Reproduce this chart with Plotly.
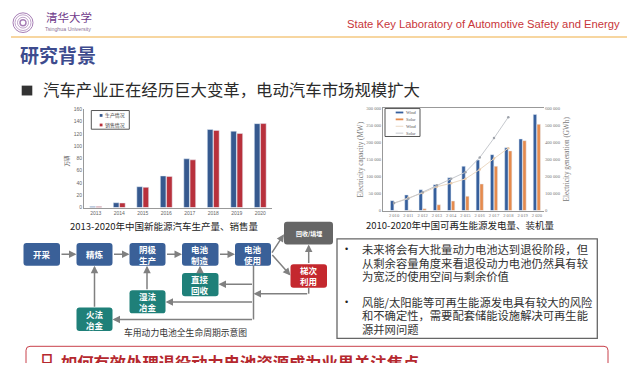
import plotly.graph_objects as go

W, H = 640, 368
CJK = "Noto Sans CJK SC, Liberation Sans, sans-serif"
LAT = "Liberation Sans, Arial, sans-serif"
SER = "Liberation Serif, serif"

# left chart data
ev_years = ["2013", "2014", "2015", "2016", "2017", "2018", "2019", "2020"]
ev_production = [1.8, 7.9, 34, 51.5, 79.4, 127, 124.2, 136.6]
ev_sales = [1.8, 7.5, 33, 50.7, 77.7, 125.6, 120.6, 136.7]
ev_ticks = [0, 20, 40, 60, 80, 100, 120, 140, 160]

# right chart data
re_years = ["2 010", "2 011", "2 012", "2 013", "2 014", "2 015", "2 016", "2 017", "2 018", "2 019", "2 020"]
wind_capacity = [29000, 46000, 61000, 76000, 96000, 130000, 148000, 164000, 184000, 210000, 282000]
solar_capacity = [800, 2000, 5000, 17000, 28000, 42000, 78000, 130000, 175000, 205000, 253000]
wind_generation = [44000, 75000, 103000, 140000, 160000, 186000, 241000, 305000, 366000]
solar_generation = [44000, 70000, 108000, 148000, 186000, 225000, 311000, 425000, 548000]
cap_tickvals = [0, 50000, 100000, 150000, 200000, 250000, 300000]
cap_ticktext = ["0", "50 000", "100 000", "150 000", "200 000", "250 000", "300 000"]
gen_tickvals = [0, 100000, 200000, 300000, 400000, 500000, 600000]
gen_ticktext = ["0", "100 000", "200 000", "300 000", "400 000", "500 000", "600 000"]

# slide text
header_text = "State Key Laboratory of Automotive Safety and Energy"
title_text = "研究背景"
headline_text = "汽车产业正在经历巨大变革，电动汽车市场规模扩大"
left_caption = "2013-2020年中国新能源汽车生产量、销售量"
right_caption = "2010-2020年中国可再生能源发电量、装机量"
flow_caption = "车用动力电池全生命周期示意图"
bottom_mark = "口"
bottom_text = "如何有效处理退役动力电池资源成为业界关注焦点"
bullet_lines = [
    (250, "未来将会有大批量动力电池达到退役阶段，但"),
    (264, "从剩余容量角度来看退役动力电池仍然具有较"),
    (277.5, "为宽泛的使用空间与剩余价值"),
    (304, "风能/太阳能等可再生能源发电具有较大的风险"),
    (317.5, "和不确定性，需要配套储能设施解决可再生能"),
    (331, "源并网问题"),
]

BLUE, RED2, TEAL, RED, GREY = "#3A6098", "#B8313C", "#1F8079", "#C4282E", "#666666"
EV_BLUE, WIND_BLUE, SOLAR_OR, WIND_LN, SOLAR_LN = "#36598F", "#365F9C", "#E58B4E", "#EBD9C4", "#C6C9CE"
flow_nodes = [
    (23.5, 60, 244, 267, BLUE, "开采"),
    (76.5, 112.5, 244, 267, BLUE, "精炼"),
    (129.5, 165.5, 244, 267, BLUE, "阴极<br>生产"),
    (182, 218.5, 244, 267, BLUE, "电池<br>制造"),
    (235, 271, 244, 267, BLUE, "电池<br>使用"),
    (284, 333, 222.5, 245.5, GREY, "回收/填埋"),
    (290.5, 327, 265.5, 289.5, RED, "梯次<br>利用"),
    (182, 218.5, 274.5, 298, TEAL, "直接<br>回收"),
    (129.5, 165.5, 292, 315.5, TEAL, "湿法<br>冶金"),
    (76.5, 112.5, 309.5, 333.5, TEAL, "火法<br>冶金"),
]
flow_arrows = [
    (60, 255.5, 76.5, 255.5), (112.5, 255.5, 129.5, 255.5), (165.5, 255.5, 182, 255.5),
    (218.5, 255.5, 235, 255.5), (271, 255, 284, 235), (271, 255, 290.5, 277),
    (308.7, 265.5, 308.7, 245.5), (308.7, 295.5, 253.5, 295.5), (253.5, 286, 218.5, 286),
    (253.5, 304, 165.5, 304), (253.5, 321.7, 112.5, 321.7), (200, 274.5, 200, 267),
    (147, 292, 147, 267), (94.5, 309.5, 94.5, 267),
]
flow_lines = [(253.5, 267, 253.5, 321.7), (308.7, 289.5, 308.7, 295.5)]


def px(x):
    return x / W


def py(y):
    return 1 - y / H


def text(x, y, s, size, color="#333333", font=CJK, anchor="left", **kw):
    return dict(xref="paper", yref="paper", x=px(x), y=py(y), text=s, showarrow=False,
                xanchor=anchor, yanchor=kw.pop("yanchor", "middle"), align=anchor,
                font=dict(size=size, color=color, family=font), borderpad=0, **kw)


def rect(x0, x1, y0, y1, **kw):
    return dict(type="rect", xref="paper", yref="paper", x0=px(x0), x1=px(x1), y0=py(y0), y1=py(y1), **kw)


def rounded(x0, x1, y0, y1, r, color):
    a, b, c, d = px(x0), px(x1), py(y0), py(y1)
    rx, ry = r / W, r / H
    p = (f"M{a+rx},{c} L{b-rx},{c} Q{b},{c} {b},{c-ry} L{b},{d+ry} Q{b},{d} {b-rx},{d} "
         f"L{a+rx},{d} Q{a},{d} {a},{d+ry} L{a},{c-ry} Q{a},{c} {a+rx},{c} Z")
    return dict(type="path", xref="paper", yref="paper", path=p, fillcolor=color, line=dict(width=0))


def seg(x0, y0, x1, y1, color="#808080", width=1.5):
    return dict(type="line", xref="paper", yref="paper", x0=px(x0), x1=px(x1), y0=py(y0), y1=py(y1),
                line=dict(color=color, width=width))


fig = go.Figure()
fig.add_bar(x=ev_years, y=ev_production, name="生产情况", marker_color=EV_BLUE, xaxis="x", yaxis="y")
fig.add_bar(x=ev_years, y=ev_sales, name="销售情况", marker_color=RED2, xaxis="x", yaxis="y")
fig.add_bar(x=re_years, y=wind_capacity, name="Wind", marker_color=WIND_BLUE, xaxis="x2", yaxis="y2", offsetgroup="w")
fig.add_bar(x=re_years, y=solar_capacity, name="Solar", marker_color=SOLAR_OR, xaxis="x2", yaxis="y2", offsetgroup="s")
fig.add_scatter(x=re_years[:9], y=wind_generation, name="Wind", mode="lines+markers", xaxis="x2", yaxis="y3",
                line=dict(color=WIND_LN, width=1), marker=dict(size=2.5, color="#E8C9A8"))
fig.add_scatter(x=re_years[:9], y=solar_generation, name="Solar", mode="lines+markers", xaxis="x2", yaxis="y3",
                line=dict(color=SOLAR_LN, width=1), marker=dict(size=2.5, color="#9EA3AB"))

shapes = [seg(11, 34.5, 627, 34.5, "#F4C880", 1.5),
          rect(21.7, 32.3, 84, 94, fillcolor="#333333", line=dict(width=0)),
          rect(337, 597.3, 239.7, 341, fillcolor="rgba(0,0,0,0)", line=dict(color="#666666", width=1.3))]
for r, w in [(10, 1), (8, 0.7), (5.5, 0.7), (3, 1.5)]:
    shapes.append(dict(type="circle", xref="paper", yref="paper", x0=px(23 - r), x1=px(23 + r),
                       y0=py(20 + r), y1=py(20 - r), line=dict(color="#A67DB5", width=w)))
a, b, t, bt = px(26), px(608), py(349), py(366)
rx, ry = 4 / W, 4 / H
shapes.append(dict(type="path", xref="paper", yref="paper",
                   path=f"M{a},{bt} L{a},{t-ry} Q{a},{t} {a+rx},{t} L{b-rx},{t} Q{b},{t} {b},{t-ry} L{b},{bt}",
                   line=dict(color="#C8404A", width=1)))

annos = [
    text(621, 21, header_text, 11.25, "#C8363A", LAT, "right"),
    text(19, 52, "<b>" + title_text + "</b>", 19, "#3D4B8E"),
    text(42, 87.5, headline_text, 16.4, "#2B2B2B"),
    text(45, 14.5, "清华大学", 11.5, "#6F3A8A", "Noto Sans CJK SC"),
    text(44, 26, "Tsinghua University", 5.3, "#8A6F96", LAT),
    text(164, 227, left_caption, 9.5, "#222222", CJK, "center"),
    text(460, 226, right_caption, 9.5, "#222222", CJK, "center"),
    text(185, 335, flow_caption, 8.8, "#333333", CJK, "center"),
    text(67, 160, "万辆", 5.5, "#555555", CJK, "center", textangle=-90),
    text(361, 159, "Electricity capacity (MW)", 7.2, "#777777", SER, "center", textangle=-90),
    text(567, 159, "Electricity generation (GWh)", 7.2, "#777777", SER, "center", textangle=-90),
    text(40, 352, "<b>" + bottom_mark + "</b>", 12, "#B5282E", CJK, yanchor="top", height=13, valign="top"),
    text(60, 352, "<b>" + bottom_text + "</b>", 16.3, "#B5282E", CJK, yanchor="top", height=13, valign="top"),
    text(343.5, 250, "•", 9, "#222222", LAT),
    text(343.5, 304, "•", 9, "#222222", LAT),
]
for y, s in bullet_lines:
    annos.append(text(360.7, y, s, 11.3, "#333333"))

for x0, x1, y0, y1, col, lab in flow_nodes:
    shapes.append(rounded(x0, x1, y0, y1, 3, col))
    size = 6 if "/" in lab else 8.5
    cy = (y0 + y1) / 2
    annos.append(text((x0 + x1) / 2, cy, "<b>" + lab + "</b>", size, "#FFFFFF", CJK, "center"))
for x0, y0, x1, y1 in flow_lines:
    shapes.append(seg(x0, y0, x1, y1))
for x0, y0, x1, y1 in flow_arrows:
    annos.append(dict(xref="paper", yref="paper", x=px(x1), y=py(y1), ax=x0 - x1, ay=y0 - y1, text="",
                      axref="pixel", ayref="pixel", showarrow=True, arrowhead=2, arrowsize=1,
                      arrowwidth=1.5, arrowcolor="#808080", standoff=0, startstandoff=0))

# left legend
shapes.append(rect(91.3, 129.3, 109.3, 128.3, fillcolor="white", line=dict(color="#555555", width=1)))
for y, col, lab in [(114.3, EV_BLUE, "生产情况"), (124, RED2, "销售情况")]:
    shapes.append(rect(99.7, 102.5, y - 1.4, y + 1.4, fillcolor=col, line=dict(width=0)))
    annos.append(text(104, y, lab, 4.9, "#444444"))
# right legend
shapes.append(rect(385, 420, 107.3, 135.7, fillcolor="white", line=dict(color="#555555", width=1)))
for y, col, wd, lab in [(111.3, WIND_BLUE, 1.8, "Wind"), (118.3, SOLAR_OR, 1.8, "Solar"),
                        (125.3, WIND_LN, 1, "Wind"), (132.3, SOLAR_LN, 1, "Solar")]:
    shapes.append(seg(395.7, y, 403.3, y, col, wd))
    annos.append(text(405, y, lab, 4.5, "#555555", SER))

tickf = dict(size=5, color="#666666", family=LAT)
serf = dict(size=4.6, color="#777777", family=SER)
fig.update_layout(
    width=W, height=H, margin=dict(l=0, r=0, t=0, b=0), paper_bgcolor="white", plot_bgcolor="white",
    barmode="group", bargap=0.47, bargroupgap=0.1, showlegend=False,
    xaxis=dict(domain=[px(84), px(272)], anchor="y", showline=True, linecolor="#999999", linewidth=1,
               tickfont=tickf, ticks="", showgrid=False),
    yaxis=dict(domain=[py(208), py(108)], anchor="x", range=[0, 160], tickvals=ev_ticks, tickfont=tickf,
               showline=True, linecolor="#999999", linewidth=1, showgrid=False, zeroline=False, ticks=""),
    xaxis2=dict(domain=[px(383), px(544)], anchor="y2", showline=True, linecolor="#999999", linewidth=1, mirror=True,
                tickfont=serf, showgrid=False, ticks=""),
    yaxis2=dict(domain=[py(211), py(107)], anchor="x2", range=[0, 300000], tickvals=cap_tickvals, ticktext=cap_ticktext,
                tickfont=serf, showline=True, linecolor="#999999", linewidth=1, showgrid=False, zeroline=False, ticks=""),
    yaxis3=dict(domain=[py(211), py(107)], anchor="x2", overlaying="y2", side="right", range=[0, 600000],
                tickvals=gen_tickvals, ticktext=gen_ticktext, tickfont=serf, showline=False, showgrid=False,
                zeroline=False, ticks=""),
    shapes=shapes, annotations=annos,
)
fig.write_html("out.html", post_script="document.body.style.margin='0';", config={"displayModeBar": False})
